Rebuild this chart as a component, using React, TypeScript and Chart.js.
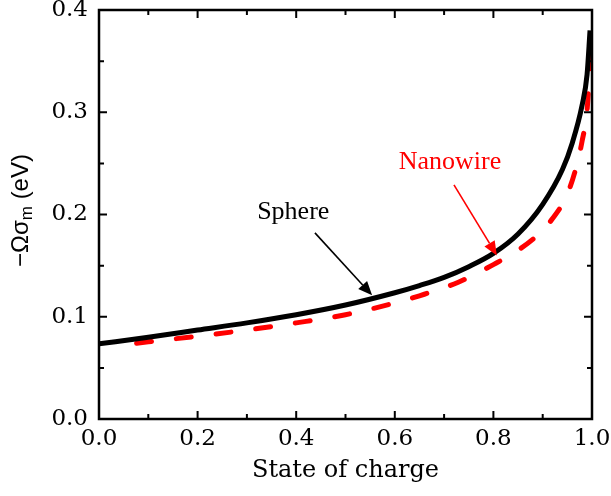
import React, { useEffect, useRef } from "react";
import { Chart, registerables } from "chart.js";

Chart.register(...registerables);

// ---- data ----
const sphereSOC = [0.0, 0.1, 0.2, 0.3, 0.4, 0.5, 0.6, 0.65, 0.7, 0.75, 0.8, 0.85, 0.9, 0.94, 0.96, 0.98, 0.99, 0.996];
const sphereVal = [0.0735, 0.080, 0.087, 0.094, 0.102, 0.1115, 0.1235, 0.1305, 0.1385, 0.149, 0.162, 0.181, 0.210, 0.244, 0.270, 0.307, 0.337, 0.380];

const nanowireSOC = [0.04, 0.1, 0.2, 0.3, 0.4, 0.5, 0.6, 0.65, 0.73, 0.8, 0.85, 0.89, 0.92, 0.95, 0.97, 0.98, 0.99, 0.997];
const nanowireVal = [0.072, 0.0755, 0.081, 0.087, 0.094, 0.102, 0.1135, 0.1205, 0.134, 0.151, 0.165, 0.180, 0.196, 0.220, 0.250, 0.272, 0.302, 0.355];

const xTickValues = [0, 0.2, 0.4, 0.6, 0.8, 1.0];
const yTickValues = [0, 0.1, 0.2, 0.3, 0.4];

const xTitle = "State of charge";
const yTitleMain = "\u2212\u03A9\u03C3";
const yTitleSub = "m";
const yTitleTail = " (eV)";

const annotationLabels = ["Sphere", "Nanowire"];
const annotationColors = ["#000000", "#ff0000"];
const annotationTextPos = [[0.394, 0.2025], [0.712, 0.251]];
const annotationArrowFrom = [[0.438, 0.182], [0.72, 0.229]];
const annotationArrowTo = [[0.554, 0.121], [0.807, 0.160]];

const framePlugin = {
  id: "frameTicks",
  afterDatasetsDraw(chart: any) {
    const { ctx, chartArea, scales } = chart;
    const xs = scales.x;
    const ys = scales.y;
    const { left, right, top, bottom } = chartArea;
    ctx.save();
    ctx.strokeStyle = "#000";
    ctx.lineWidth = 2.5;
    ctx.lineCap = "square";
    ctx.strokeRect(left, top, right - left, bottom - top);

    const major = 8;
    const minor = 5;
    ctx.lineWidth = 2;
    ctx.lineCap = "butt";
    ctx.beginPath();
    for (let i = 0; i < xTickValues.length; i++) {
      const px = xs.getPixelForValue(xTickValues[i]);
      ctx.moveTo(px, bottom); ctx.lineTo(px, bottom - major);
      ctx.moveTo(px, top); ctx.lineTo(px, top + major);
      if (i < xTickValues.length - 1) {
        const mx = xs.getPixelForValue((xTickValues[i] + xTickValues[i + 1]) / 2);
        ctx.moveTo(mx, bottom); ctx.lineTo(mx, bottom - minor);
        ctx.moveTo(mx, top); ctx.lineTo(mx, top + minor);
      }
    }
    for (let i = 0; i < yTickValues.length; i++) {
      const py = ys.getPixelForValue(yTickValues[i]);
      ctx.moveTo(left, py); ctx.lineTo(left + major, py);
      ctx.moveTo(right, py); ctx.lineTo(right - major, py);
      if (i < yTickValues.length - 1) {
        const my = ys.getPixelForValue((yTickValues[i] + yTickValues[i + 1]) / 2);
        ctx.moveTo(left, my); ctx.lineTo(left + minor, my);
        ctx.moveTo(right, my); ctx.lineTo(right - minor, my);
      }
    }
    ctx.stroke();

    // annotations
    for (let i = 0; i < annotationLabels.length; i++) {
      const color = annotationColors[i];
      ctx.fillStyle = color;
      ctx.strokeStyle = color;
      ctx.font = "26px 'Liberation Serif', serif";
      ctx.textAlign = "center";
      ctx.textBaseline = "middle";
      ctx.fillText(
        annotationLabels[i],
        xs.getPixelForValue(annotationTextPos[i][0]),
        ys.getPixelForValue(annotationTextPos[i][1])
      );
      const x1 = xs.getPixelForValue(annotationArrowFrom[i][0]);
      const y1 = ys.getPixelForValue(annotationArrowFrom[i][1]);
      const x2 = xs.getPixelForValue(annotationArrowTo[i][0]);
      const y2 = ys.getPixelForValue(annotationArrowTo[i][1]);
      const ang = Math.atan2(y2 - y1, x2 - x1);
      const headLen = 14;
      const headHalf = 6;
      const bx = x2 - headLen * Math.cos(ang);
      const by = y2 - headLen * Math.sin(ang);
      ctx.lineWidth = 1.6;
      ctx.beginPath();
      ctx.moveTo(x1, y1);
      ctx.lineTo(bx, by);
      ctx.stroke();
      ctx.beginPath();
      ctx.moveTo(x2, y2);
      ctx.lineTo(bx + headHalf * Math.sin(ang), by - headHalf * Math.cos(ang));
      ctx.lineTo(bx - headHalf * Math.sin(ang), by + headHalf * Math.cos(ang));
      ctx.closePath();
      ctx.fill();
    }

    // y-axis title with subscript
    const mainFont = "24px 'Liberation Sans', sans-serif";
    const subFont = "17px 'Liberation Sans', sans-serif";
    ctx.font = mainFont;
    const w1 = ctx.measureText(yTitleMain).width;
    const w3 = ctx.measureText(yTitleTail).width;
    ctx.font = subFont;
    const w2 = ctx.measureText(yTitleSub).width;
    const total = w1 + w2 + w3;
    const cy = (top + bottom) / 2 - 4;
    ctx.translate(28, cy);
    ctx.rotate(-Math.PI / 2);
    ctx.fillStyle = "#000";
    ctx.textAlign = "left";
    ctx.textBaseline = "alphabetic";
    let x = -total / 2;
    ctx.font = mainFont;
    ctx.fillText(yTitleMain, x, 0);
    x += w1;
    ctx.font = subFont;
    ctx.fillText(yTitleSub, x, 4);
    x += w2;
    ctx.font = mainFont;
    ctx.fillText(yTitleTail, x, 0);
    ctx.restore();
  },
};

export default function App() {
  const canvasRef = useRef<HTMLCanvasElement | null>(null);

  useEffect(() => {
    if (!canvasRef.current) return;
    const sphereData = sphereSOC.map((v, i) => ({ x: v, y: sphereVal[i] }));
    const nanowireData = nanowireSOC.map((v, i) => ({ x: v, y: nanowireVal[i] }));
    const tickFont = { family: "'DejaVu Serif', serif", size: 23 };
    const chart = new Chart(canvasRef.current, {
      type: "line",
      data: {
        datasets: [
          {
            label: "Nanowire",
            data: nanowireData,
            borderColor: "#ff0000",
            borderWidth: 5,
            borderDash: [15, 25],
            borderDashOffset: 22,
            borderCapStyle: "round",
            pointRadius: 0,
            fill: false,
            cubicInterpolationMode: "monotone",
            order: 2,
          },
          {
            label: "Sphere",
            data: sphereData,
            borderColor: "#000000",
            borderWidth: 5,
            pointRadius: 0,
            fill: false,
            cubicInterpolationMode: "monotone",
            order: 1,
          },
        ],
      },
      options: {
        animation: false,
        responsive: true,
        maintainAspectRatio: false,
        layout: { padding: { left: 0, top: 10, right: 19, bottom: 0 } },
        plugins: {
          legend: { display: false },
          tooltip: { enabled: false },
        },
        scales: {
          x: {
            type: "linear",
            min: 0,
            max: 1,
            grid: { display: false, drawTicks: false },
            border: { display: false },
            ticks: {
              stepSize: 0.2,
              padding: 6,
              color: "#000",
              font: tickFont,
              maxRotation: 0,
              callback: (v: any) => Number(v).toFixed(1),
            },
            title: {
              display: true,
              text: xTitle,
              color: "#000",
              font: { family: "'DejaVu Serif', serif", size: 24 },
              padding: { top: 0, bottom: 11 },
            },
            afterFit: (s: any) => {
              s.height = 77;
              s.paddingLeft = 0;
              s.paddingRight = 0;
            },
          },
          y: {
            type: "linear",
            min: 0,
            max: 0.4,
            grid: { display: false, drawTicks: false },
            border: { display: false },
            ticks: {
              stepSize: 0.1,
              padding: 11,
              color: "#000",
              font: tickFont,
              callback: (v: any) => Number(v).toFixed(1),
            },
            afterFit: (s: any) => {
              s.width = 99;
              s.paddingTop = 0;
              s.paddingBottom = 0;
            },
          },
        },
      },
      plugins: [framePlugin],
    } as any);
    return () => chart.destroy();
  }, []);

  return (
    <div style={{ position: "absolute", left: 0, top: 0, width: 611, height: 496, background: "#fff" }}>
      <canvas ref={canvasRef} />
    </div>
  );
}
